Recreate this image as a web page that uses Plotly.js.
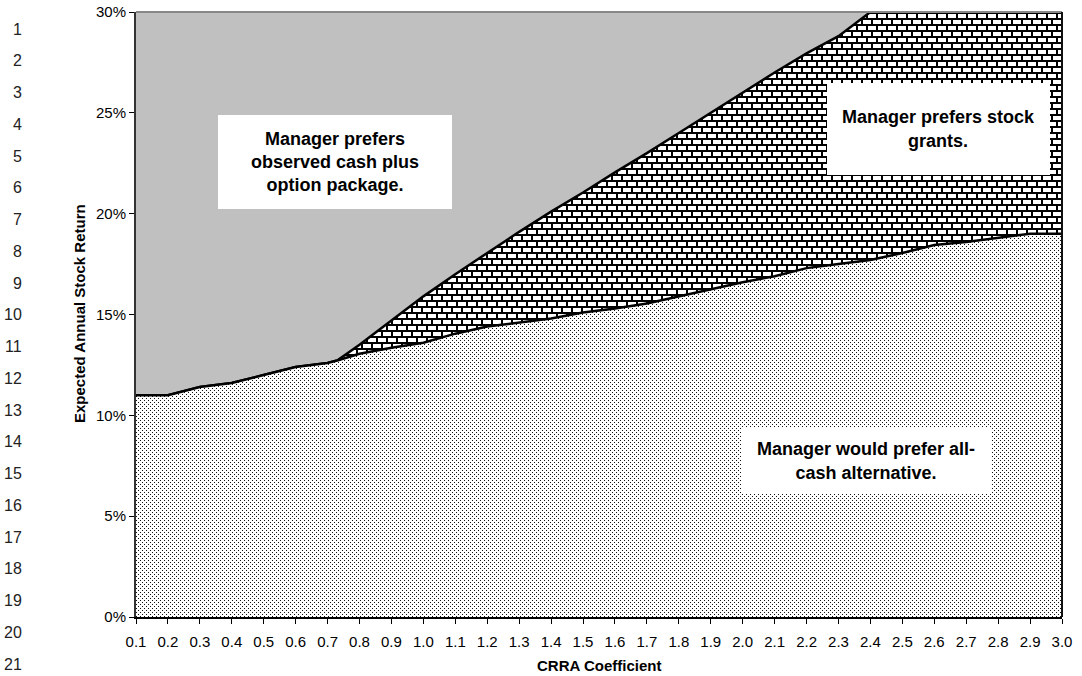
<!DOCTYPE html>
<html>
<head>
<meta charset="utf-8">
<script src="https://cdn.plot.ly/plotly-3.0.1.min.js"></script>
<style>
html,body{margin:0;padding:0;background:#fff;}
#chart{width:1082px;height:676px;}
</style>
</head>
<body>
<div id="chart"></div>
<script>
// ---------- data ----------
const crra = [0.1,0.2,0.3,0.4,0.5,0.6,0.7,0.73,0.8,0.9,1.0,1.1,1.2,1.3,1.4,1.5,1.6,1.7,1.8,1.9,2.0,2.1,2.2,2.3,2.4,2.5,2.6,2.7,2.8,2.9,3.0];
// boundary between "all-cash" region and the rest (expected return, %)
const cashBoundary = [11.0,11.0,11.4,11.6,12.0,12.4,12.6,12.72,13.05,13.35,13.6,14.05,14.4,14.6,14.8,15.1,15.3,15.55,15.9,16.25,16.6,16.9,17.3,17.5,17.7,18.05,18.45,18.6,18.8,19.0,19.0];
// boundary between "stock grants" region and "cash plus option" region (%), capped at chart top
const stockBoundary = [11.0,11.0,11.4,11.6,12.0,12.4,12.6,12.72,13.5,14.7,15.9,17.0,18.05,19.1,20.1,21.05,22.05,23.0,24.0,25.0,26.0,27.0,27.95,28.8,30.0,30.0,30.0,30.0,30.0,30.0,30.0];
const xTickValues = [0.1,0.2,0.3,0.4,0.5,0.6,0.7,0.8,0.9,1.0,1.1,1.2,1.3,1.4,1.5,1.6,1.7,1.8,1.9,2.0,2.1,2.2,2.3,2.4,2.5,2.6,2.7,2.8,2.9,3.0];
const xTickLabels = ["0.1","0.2","0.3","0.4","0.5","0.6","0.7","0.8","0.9","1.0","1.1","1.2","1.3","1.4","1.5","1.6","1.7","1.8","1.9","2.0","2.1","2.2","2.3","2.4","2.5","2.6","2.7","2.8","2.9","3.0"];
const yTickValues = [0,5,10,15,20,25,30];
const yTickLabels = ["0%","5%","10%","15%","20%","25%","30%"];
const regionLabels = [
  "Manager prefers<br>observed cash plus<br>option package.",
  "Manager prefers stock<br>grants.",
  "Manager would prefer all-<br>cash alternative."
];
const xTitle = "CRRA Coefficient";
const yTitle = "Expected Annual Stock Return";
const lineNumbers = ["1","2","3","4","5","6","7","8","9","10","11","12","13","14","15","16","17","18","19","20","21"];

// ---------- layout geometry ----------
const W = 1082, H = 676, ML = 136, MR = 20, MT = 12, MB = 59;
const PW = W - ML - MR, PH = H - MT - MB;
const px2x = p => (p - ML) / PW;
const py2y = p => (H - MB - p) / PH;
const FONT = 'Arial, "Liberation Sans", sans-serif';

const traces = [
  {
    x: crra, y: stockBoundary, type: 'scatter', mode: 'lines',
    line: {color: '#000', width: 2.5},
    fill: 'tozeroy', fillcolor: '#fff',
    fillpattern: {shape: '-', fgcolor: '#111', bgcolor: '#fff', size: 6, solidity: 0.25},
    hoverinfo: 'skip', showlegend: false
  },
  {
    x: crra, y: cashBoundary, type: 'scatter', mode: 'lines',
    line: {color: '#000', width: 2.5},
    fill: 'tozeroy', fillcolor: '#fff',
    fillpattern: {shape: '.', fgcolor: '#333', bgcolor: '#fff', size: 4, solidity: 0.15},
    hoverinfo: 'skip', showlegend: false
  }
];

const annotations = [];
// region labels (white boxes)
const boxes = [
  {cx: 335, cy: 162, w: 234, h: 94},
  {cx: 938, cy: 129, w: 223, h: 92},
  {cx: 866, cy: 461, w: 250, h: 66}
];
regionLabels.forEach((t, i) => {
  const b = boxes[i];
  annotations.push({
    text: t, xref: 'paper', yref: 'paper', x: px2x(b.cx), y: py2y(b.cy),
    xanchor: 'center', yanchor: 'middle', showarrow: false,
    width: b.w, height: b.h, bgcolor: '#fff', borderpad: 0, borderwidth: 0,
    align: 'center', valign: 'middle',
    font: {family: FONT, size: 18, color: '#000', weight: 'bold'}
  });
});
// axis titles
annotations.push({
  text: '<b>' + xTitle + '</b>', xref: 'paper', yref: 'paper',
  x: px2x(599), y: py2y(665), xanchor: 'center', yanchor: 'middle', showarrow: false,
  font: {family: FONT, size: 15, color: '#000'}
});
annotations.push({
  text: '<b>' + yTitle + '</b>', xref: 'paper', yref: 'paper',
  x: px2x(79), y: py2y(314), xanchor: 'center', yanchor: 'middle', showarrow: false,
  textangle: -90, font: {family: FONT, size: 15, color: '#000'}
});
// document line numbers in the left margin
lineNumbers.forEach((n, i) => {
  annotations.push({
    text: n, xref: 'paper', yref: 'paper', x: px2x(24), y: py2y(29 + i * 31.75),
    xanchor: 'right', yanchor: 'middle', showarrow: false,
    font: {family: FONT, size: 16, color: '#222'}
  });
});

const layout = {
  width: W, height: H,
  margin: {l: ML, r: MR, t: MT, b: MB, pad: 0},
  paper_bgcolor: '#fff', plot_bgcolor: '#c0c0c0',
  font: {family: FONT, color: '#000'},
  showlegend: false,
  xaxis: {
    range: [0.1, 3.0], tickmode: 'array', tickvals: xTickValues, ticktext: xTickLabels,
    ticks: 'outside', ticklen: 5, tickwidth: 1, tickcolor: '#000',
    showline: true, linecolor: '#000', linewidth: 2,
    showgrid: false, zeroline: false, ticklabelstandoff: 5,
    tickfont: {family: FONT, size: 15, color: '#000'}
  },
  yaxis: {
    range: [0, 30], tickmode: 'array', tickvals: yTickValues, ticktext: yTickLabels,
    ticks: 'outside', ticklen: 5, tickwidth: 1, tickcolor: '#000',
    showline: true, linecolor: '#333', linewidth: 2,
    showgrid: false, zeroline: false,
    tickfont: {family: FONT, size: 15, color: '#000'}
  },
  shapes: [
    {type: 'line', xref: 'paper', yref: 'paper', x0: 0, x1: 1, y0: 1, y1: 1, line: {color: '#888', width: 2}},
    {type: 'line', xref: 'paper', yref: 'paper', x0: 1, x1: 1, y0: 0, y1: 1, line: {color: '#111', width: 2}}
  ],
  annotations: annotations
};

function customizePatterns(gd) {
  const NS = 'http://www.w3.org/2000/svg';
  const specs = [
    {w: 10, h: 12, rects: [[0,0,10,12,'#fff'],[0,0,10,2,'#000'],[0,6,10,2,'#000'],[0,0,2,6,'#000'],[5,6,2,6,'#000']]},
    {w: 4, h: 4, rects: [[0,0,4,4,'#fff'],[0,0,1,1,'#111'],[2,2,1,1,'#111']]}
  ];
  const trs = gd.querySelectorAll('.scatterlayer .trace');
  trs.forEach((tr, i) => {
    const f = tr.querySelector('.js-fill');
    if (!f || !specs[i]) return;
    const s = (f.style.fill || f.getAttribute('fill') || '');
    const m = s.match(/url\(["']?#([^"')]+)["']?\)/);
    if (!m) return;
    const pat = document.getElementById(m[1]);
    if (!pat) return;
    const sp = specs[i];
    while (pat.firstChild) pat.removeChild(pat.firstChild);
    pat.setAttribute('width', sp.w);
    pat.setAttribute('height', sp.h);
    pat.setAttribute('patternUnits', 'userSpaceOnUse');
    pat.removeAttribute('patternTransform');
    sp.rects.forEach(r => {
      const e = document.createElementNS(NS, 'rect');
      e.setAttribute('x', r[0]); e.setAttribute('y', r[1]);
      e.setAttribute('width', r[2]); e.setAttribute('height', r[3]);
      e.setAttribute('fill', r[4]);
      e.setAttribute('shape-rendering', 'crispEdges');
      pat.appendChild(e);
    });
  });
}

Plotly.newPlot('chart', traces, layout, {staticPlot: true, displayModeBar: false})
  .then(gd => { try { customizePatterns(gd); } catch (e) {} });
</script>
</body>
</html>
